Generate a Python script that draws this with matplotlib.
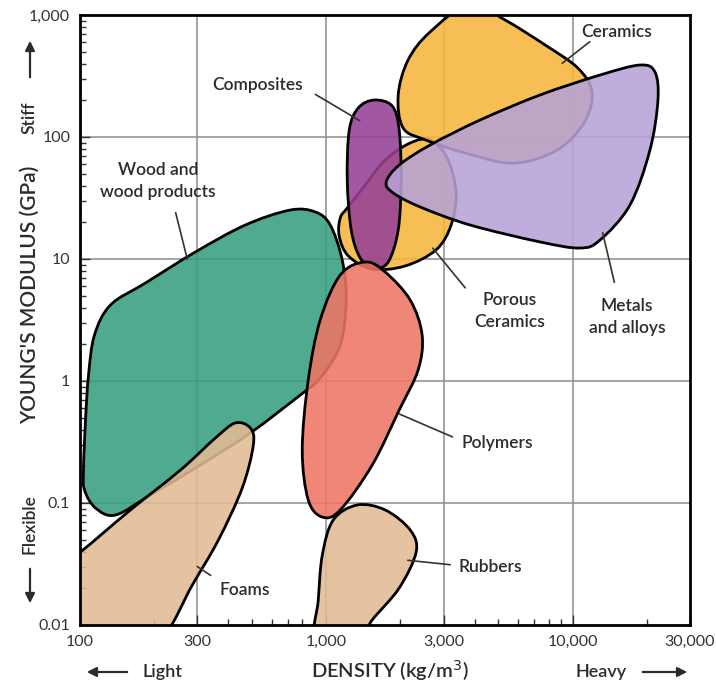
import numpy as np
import matplotlib
matplotlib.use("Agg")
import matplotlib.pyplot as plt
from matplotlib.path import Path
from matplotlib.patches import PathPatch
from matplotlib.colors import to_rgba
from matplotlib.ticker import FixedLocator, FixedFormatter, NullFormatter

plt.rcParams['font.family'] = ['Lato', 'DejaVu Sans']

# ---------------- data (density kg/m^3, Young's modulus GPa) ----------------
ceramics_rho = [1960, 2150, 2640, 3840, 5320, 7740, 10500, 12000, 11200, 8650, 5740, 3660, 2520, 2050]
ceramics_E = [221, 428, 726, 1230, 910, 568, 368, 234, 133, 78, 61, 74, 95, 119]

porous_rho = [1217, 1440, 1735, 2192, 2642, 3097, 3367, 3214, 2794, 2092, 1537, 1229, 1129, 1140]
porous_E = [26.2, 40.4, 64.8, 89.3, 94.5, 67.3, 35.4, 19.0, 11.9, 8.77, 8.28, 10.6, 15.4, 21.7]

composites_rho = [1566, 1853, 1978, 2015, 1960, 1785, 1566, 1374, 1263, 1217, 1240, 1349]
composites_E = [201, 179.5, 114, 44.4, 17.3, 9.45, 8.44, 10.2, 17.3, 44.4, 114, 173]

metals_rho = [1752, 1978, 2642, 4215, 7383, 12930, 18780, 21610, 22230, 20630, 17110, 12930, 10720, 7383, 3838, 2406, 1870]
metals_E = [42.8, 58.9, 86.0, 137.8, 221, 322, 389, 341, 201, 78.3, 27.7, 14.3, 12.3, 13.8, 19.0, 26.7, 34.8]

wood_rho = [103.3, 105.3, 108.3, 114.5, 133.0, 184.4, 294.1, 469.4, 714.5, 902, 1038, 1161, 1205, 1140,
            945, 784.6, 491.8, 308.2, 193.2, 139.3, 115.6, 104.3]
wood_E = [0.1863, 0.4786, 1.120, 2.382, 4.198, 6.357, 11.41, 19.0, 25.2, 24.3, 19.0, 9.81, 4.61, 1.973,
          1.058, 0.768, 0.375, 0.2048, 0.1163, 0.0797, 0.0910, 0.1278]

polymers_rho = [1440, 1735, 2192, 2451, 2361, 1978, 1537, 1140, 964, 845, 799, 845, 945, 1140]
polymers_E = [9.45, 7.82, 4.61, 2.382, 1.231, 0.578, 0.2048, 0.0877, 0.0767, 0.1059, 0.272, 1.019, 3.162, 7.39]

foams_rho = [83.4, 100.5, 160.3, 255.7, 354.6, 427.4, 491.8, 505.8, 456, 364.7, 285.9, 212.2, 133, 75.9]
foams_E = [0.031, 0.0397, 0.0877, 0.186, 0.341, 0.453, 0.412, 0.299, 0.133, 0.0497, 0.0213, 0.0075, 0.0043, 0.0043]

rubbers_rho = [1336, 1735, 2192, 2318, 1978, 1537, 1312, 902, 928, 964, 1068]
rubbers_E = [0.0963, 0.0877, 0.0601, 0.0397, 0.0201, 0.0110, 0.00686, 0.00686, 0.0160, 0.0375, 0.0726]

x_ticks = [100, 300, 1000, 3000, 10000, 30000]
x_tick_labels = ["100", "300", "1,000", "3,000", "10,000", "30,000"]
y_ticks = [0.01, 0.1, 1, 10, 100, 1000]
y_tick_labels = ["0.01", "0.1", "1", "10", "100", "1,000"]

# ---------------- helpers ----------------
def smooth_path(xs, ys):
    P = np.column_stack([np.log10(xs), np.log10(ys)])
    n = len(P)
    verts = [P[0]]
    codes = [Path.MOVETO]
    for i in range(n):
        p0, p1, p2, p3 = P[(i - 1) % n], P[i], P[(i + 1) % n], P[(i + 2) % n]
        c1 = p1 + (p2 - p0) / 6.0
        c2 = p2 - (p3 - p1) / 6.0
        verts += [c1, c2, p2]
        codes += [Path.CURVE4] * 3
    verts.append(P[0])
    codes.append(Path.CLOSEPOLY)
    return Path(10 ** np.array(verts), codes)

W, H = 716, 689
fig = plt.figure(figsize=(W / 100, H / 100), dpi=100)
ax = fig.add_axes([80 / W, 1 - 625 / H, 610 / W, 610 / H])
ax.set_xscale('log')
ax.set_yscale('log')
ax.set_xlim(100, 30000)
ax.set_ylim(0.01, 1000)

for v in x_ticks[1:-1]:
    ax.axvline(v, color='#8c8c8c', lw=1.1, zorder=0)
for v in y_ticks[1:-1]:
    ax.axhline(v, color='#8c8c8c', lw=1.1, zorder=0)

layers = [
    (porous_rho, porous_E, '#F6B53F'),
    (ceramics_rho, ceramics_E, '#F6B53F'),
    (composites_rho, composites_E, '#954096'),
    (metals_rho, metals_E, '#B7A2D6'),
    (wood_rho, wood_E, '#389F80'),
    (polymers_rho, polymers_E, '#EE7564'),
    (foams_rho, foams_E, '#E2BB94'),
    (rubbers_rho, rubbers_E, '#E2BB94'),
]
for z, (xs, ys, c) in enumerate(layers):
    patch = PathPatch(smooth_path(xs, ys), facecolor=to_rgba(c, 0.88),
                      edgecolor='black', lw=2.0, zorder=2 + z)
    ax.add_patch(patch)

for s in ax.spines.values():
    s.set_linewidth(2.0)
    s.set_zorder(20)

ax.xaxis.set_major_locator(FixedLocator(x_ticks))
ax.xaxis.set_major_formatter(FixedFormatter(x_tick_labels))
xminor = [m * 10 ** e for e in (2, 3, 4) for m in (2, 4, 5, 6, 7, 8, 9) if m * 10 ** e < 30000]
ax.xaxis.set_minor_locator(FixedLocator(xminor))
ax.xaxis.set_minor_formatter(NullFormatter())
yminor = [m * 10.0 ** e for e in (-2, -1, 0, 1, 2) for m in range(2, 10)]
ax.yaxis.set_minor_locator(FixedLocator(yminor))
ax.yaxis.set_minor_formatter(NullFormatter())
ax.yaxis.set_major_locator(FixedLocator(y_ticks))
ax.yaxis.set_major_formatter(FixedFormatter(y_tick_labels))
ax.tick_params(which='both', direction='in', top=False, right=False, colors='#333333',
               labelsize=11.5, width=1.0)
ax.tick_params(which='major', length=7, pad=7)
ax.tick_params(which='minor', length=4)

def fp(px, py):
    return (px, H - py)

tc = '#2b2b2b'
lab = dict(ha='center', va='center', fontsize=12.5, fontweight='semibold', color=tc)

def label(text, pos, a, b):
    ax.annotate('', xy=fp(*b), xytext=fp(*a), xycoords='figure pixels',
                textcoords='figure pixels',
                arrowprops=dict(arrowstyle='-', color='#333333', lw=1.2), zorder=30)
    fig.text(pos[0] / W, 1 - pos[1] / H, text, linespacing=1.45, **lab)

label('Composites', (258, 85), (313, 93), (362, 122))
label('Wood and\nwood products', (158, 181), (175, 210), (188, 262))
label('Ceramics', (617, 32), (592, 40), (560, 65))
label('Porous\nCeramics', (510, 311), (467, 290), (431, 246))
label('Metals\nand alloys', (627, 317), (615, 285), (602, 230))
label('Polymers', (497, 443), (455, 438), (397, 413))
label('Rubbers', (490, 567), (453, 565), (405, 560))
label('Foams', (245, 590), (213, 577), (195, 565))

# axis titles
fig.text(30 / W, 1 - 295 / H, "YOUNG'S MODULUS (GPa)", rotation=90, ha='center', va='center',
         fontsize=15, fontweight='semibold', color=tc)
fig.text(390 / W, 1 - 671 / H, "DENSITY (kg/m$^3$)", ha='center', va='center',
         fontsize=14.5, fontweight='semibold', color=tc)
fig.text(30 / W, 1 - 118 / H, "Stiff", rotation=90, ha='center', va='center',
         fontsize=12.5, fontweight='semibold', color=tc)
fig.text(30 / W, 1 - 524 / H, "Flexible", rotation=90, ha='center', va='center',
         fontsize=12.5, fontweight='semibold', color=tc)
fig.text(163 / W, 1 - 672 / H, "Light", ha='center', va='center',
         fontsize=13, fontweight='semibold', color=tc)
fig.text(601 / W, 1 - 672 / H, "Heavy", ha='center', va='center',
         fontsize=13, fontweight='semibold', color=tc)

arr = dict(arrowstyle='-|>', color='#2b2b2b', lw=1.6, mutation_scale=14)
for a, b in [((30, 80), (30, 38)), ((30, 566), (30, 606)), ((130, 672), (84, 672)), ((640, 672), (690, 672))]:
    ax.annotate('', xy=fp(*b), xytext=fp(*a), xycoords='figure pixels', textcoords='figure pixels',
                arrowprops=arr)

fig.savefig('out.png', dpi=100, facecolor='white')
